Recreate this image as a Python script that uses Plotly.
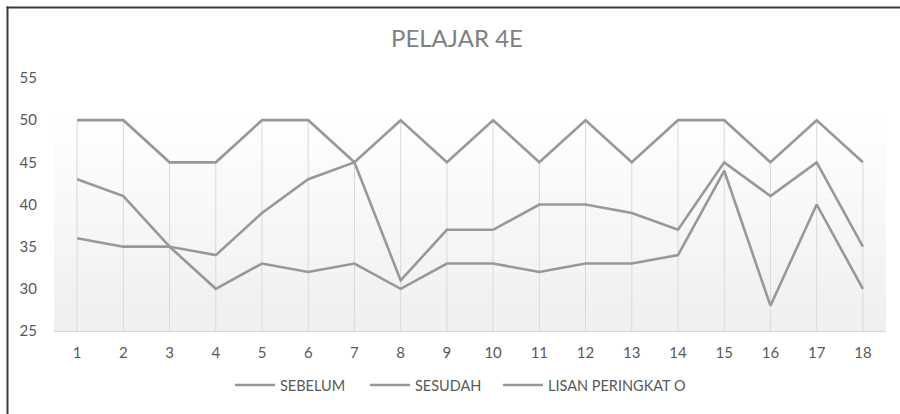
import plotly.graph_objects as go

categories = [str(i) for i in range(1, 19)]
sebelum = [36, 35, 35, 30, 33, 32, 33, 30, 33, 33, 32, 33, 33, 34, 44, 28, 40, 30]
sesudah = [43, 41, 35, 34, 39, 43, 45, 31, 37, 37, 40, 40, 39, 37, 45, 41, 45, 35]
lisan = [50, 50, 45, 45, 50, 50, 45, 50, 45, 50, 45, 50, 45, 50, 50, 45, 50, 45]
series_names = ["SEBELUM", "SESUDAH", "LISAN PERINGKAT O"]
y_ticks = [25, 30, 35, 40, 45, 50, 55]
y_min, y_max = 25, 55

LINE = "#989898"
TXT = "#595959"
FONT = "Lato"

fig = go.Figure()

# drop lines: from axis up to the highest series value at each category
drop_x, drop_y = [], []
for c, a, b, d in zip(categories, sebelum, sesudah, lisan):
    drop_x += [c, c, None]
    drop_y += [y_min, max(a, b, d), None]
fig.add_trace(go.Scatter(x=drop_x, y=drop_y, mode="lines", showlegend=False,
                         hoverinfo="skip", line=dict(color="#d9d9d9", width=1)))

legend_ids = ["legend", "legend2", "legend3"]
legend_left_px = [235, 370, 503]
for name, vals, lg in zip(series_names, [sebelum, sesudah, lisan], legend_ids):
    fig.add_trace(go.Scatter(x=categories, y=vals, mode="lines", name=name,
                             legend=lg, line=dict(color=LINE, width=2.6)))

# plot-area pixel geometry
L, R, T, B = 54, 886, 78, 331
W, H = R - L, B - T

def py(p):
    return (B - p) / H

def px(p):
    return (p - L) / W

shapes = []
# gradient background of the plot area
n = 30
top_px = 108
for i in range(n):
    y0 = top_px + (B - top_px) * i / n
    y1 = top_px + (B - top_px) * (i + 1) / n
    t = (i + 0.5) / n
    g = round(255 - (255 - 239) * t)
    shapes.append(dict(type="rect", xref="paper", yref="paper", x0=0, x1=1,
                       y0=py(y1), y1=py(y0), fillcolor=f"rgb({g},{g},{g})",
                       line=dict(width=0), layer="below"))
# outer frame (top and left visible)
shapes.append(dict(type="line", xref="paper", yref="paper", x0=px(6.5), x1=px(900),
                   y0=py(7.5), y1=py(7.5), line=dict(color="#3a3a3a", width=2)))
shapes.append(dict(type="line", xref="paper", yref="paper", x0=px(7.5), x1=px(7.5),
                   y0=py(6.5), y1=py(414), line=dict(color="#3a3a3a", width=2)))

legend_common = dict(orientation="h", xref="container", xanchor="left",
                     y=1 - 385 / 414, yref="container", yanchor="middle",
                     font=dict(size=14.5, color=TXT, family=FONT),
                     bgcolor="rgba(0,0,0,0)", itemwidth=40)

layout_legends = {}
for lg, lx in zip(legend_ids, legend_left_px):
    layout_legends[lg] = dict(legend_common, x=(lx - 5) / 900)

fig.update_layout(
    width=900, height=414,
    margin=dict(l=L, r=900 - R, t=T, b=414 - B, autoexpand=False),
    paper_bgcolor="white", plot_bgcolor="rgba(0,0,0,0)",
    font=dict(family=FONT, color=TXT, size=14),
    title=dict(text="PELAJAR 4E", x=457 / 900, xref="container", xanchor="center",
               y=1 - 39 / 414, yref="container", yanchor="middle",
               font=dict(size=24, color="#808080", family=FONT)),
    showlegend=True,
    shapes=shapes,
    xaxis=dict(type="category", range=[-0.5, 17.5], showgrid=False,
               showline=True, linecolor="#d9d9d9", automargin=False,
               linewidth=1, zeroline=False, ticks="", ticklabelstandoff=8,
               tickfont=dict(size=15, color=TXT)),
    yaxis=dict(range=[y_min, y_max], tickvals=y_ticks, showgrid=False, zeroline=False,
               showline=False, ticks="", ticklabelstandoff=16, automargin=False,
               tickfont=dict(size=15, color=TXT)),
    **layout_legends,
)

fig.write_html("out.html", config={"displayModeBar": False},
               post_script="document.body.style.margin='0';")
